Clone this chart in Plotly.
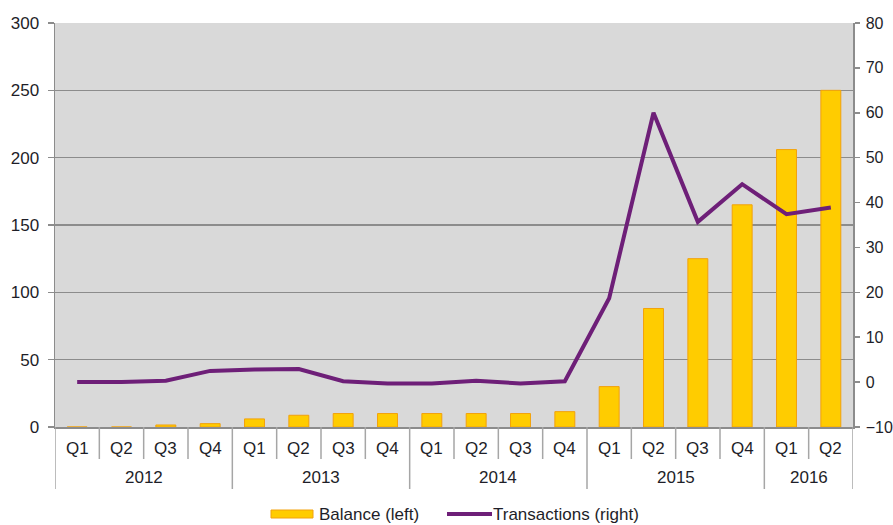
import plotly.graph_objects as go

years = ["2012", "2013", "2014", "2015", "2016"]
quarters = ["Q1", "Q2", "Q3", "Q4", "Q1", "Q2", "Q3", "Q4", "Q1", "Q2", "Q3", "Q4",
            "Q1", "Q2", "Q3", "Q4", "Q1", "Q2"]
year_of = ["2012"] * 4 + ["2013"] * 4 + ["2014"] * 4 + ["2015"] * 4 + ["2016"] * 2
balance = [0, 0, 1.5, 2.5, 6, 8.7, 10, 10, 10, 10, 10, 11.4, 30, 88, 125, 165, 206, 250]
transactions = [0, 0, 0.3, 2.5, 2.8, 2.9, 0.2, -0.3, -0.3, 0.3, -0.3, 0.2,
                18.7, 60, 35.7, 44.1, 37.4, 38.9]
left_ticks = [0, 50, 100, 150, 200, 250, 300]
right_ticks = [-10, 0, 10, 20, 30, 40, 50, 60, 70, 80]

W, H = 893, 525
L, R, T, B = 55, 853, 23, 427  # pixel positions of plot area
FONT = "Liberation Sans, Arial, sans-serif"
FS = 17
TXT = "#1E1E28"
GRAY = "#8C8C8C"
DIV = "#A6A6A6"
YEL = "#FFCC00"
PUR = "#6E1F78"

def px(x):
    return (x - L) / (R - L)

def py(y):
    return (B - y) / (B - T)

idx = list(range(len(quarters)))

fig = go.Figure()
fig.add_trace(go.Bar(x=idx, y=balance, name="Balance (left)", width=0.45,
                     marker=dict(color=YEL, line=dict(color="#F2A20C", width=1)),
                     yaxis="y", showlegend=False))
fig.add_trace(go.Scatter(x=idx, y=transactions, name="Transactions (right)", mode="lines",
                         line=dict(color=PUR, width=4), yaxis="y2", showlegend=False))

shapes = []
annotations = []
for i, q in enumerate(quarters):
    annotations.append(dict(x=i, y=py(448), xref="x", yref="paper", text=q, showarrow=False,
                            font=dict(family=FONT, size=FS, color=TXT), yanchor="middle"))
for i in range(len(quarters) + 1):
    b = i - 0.5
    is_year = i == 0 or i == len(quarters) or year_of[i] != year_of[i - 1]
    shapes.append(dict(type="line", xref="x", yref="paper", x0=b, x1=b, y0=0,
                       y1=py(489) if is_year else py(459), line=dict(color=DIV, width=1.5)))
for yr in years:
    members = [i for i in idx if year_of[i] == yr]
    annotations.append(dict(x=sum(members) / len(members), y=py(478), xref="x", yref="paper",
                            text=yr, showarrow=False,
                            font=dict(family=FONT, size=FS, color=TXT), yanchor="middle"))
LEG_Y = 514
shapes.append(dict(type="rect", xref="paper", yref="paper", x0=px(271), x1=px(313),
                   y0=py(LEG_Y + 4), y1=py(LEG_Y - 4), fillcolor=YEL,
                   line=dict(color="#F2A20C", width=1)))
annotations.append(dict(x=px(317), y=py(LEG_Y), xref="paper", yref="paper", text="Balance (left)",
                        showarrow=False, xanchor="left", yanchor="middle",
                        font=dict(family=FONT, size=FS, color=TXT)))
shapes.append(dict(type="line", xref="paper", yref="paper", x0=px(447), x1=px(492),
                   y0=py(LEG_Y), y1=py(LEG_Y), line=dict(color=PUR, width=4)))
annotations.append(dict(x=px(491), y=py(LEG_Y), xref="paper", yref="paper",
                        text="Transactions (right)", showarrow=False, xanchor="left",
                        yanchor="middle", font=dict(family=FONT, size=FS, color=TXT)))

fig.update_layout(
    width=W, height=H,
    margin=dict(l=L, r=W - R, t=T, b=H - B, pad=0, autoexpand=False),
    paper_bgcolor="white", plot_bgcolor="#D9D9D9",
    font=dict(family=FONT, size=FS, color=TXT),
    xaxis=dict(range=[-0.5, len(quarters) - 0.5], showticklabels=False, showgrid=False,
               zeroline=False, showline=True, linecolor=GRAY, linewidth=1.5, ticks="",
               automargin=False),
    yaxis=dict(range=[0, 300], tickvals=left_ticks, showgrid=True, gridcolor=GRAY,
               gridwidth=1.5, zeroline=False, showline=True, linecolor=GRAY, linewidth=1.5,
               ticks="outside", ticklen=6, tickcolor=GRAY, tickwidth=1.5,
               ticklabelstandoff=5, automargin=False,
               tickfont=dict(family=FONT, size=FS, color=TXT)),
    yaxis2=dict(range=[-10, 80], tickvals=right_ticks, overlaying="y", side="right",
                showgrid=False, zeroline=False, showline=True, linecolor=GRAY, linewidth=1.5,
                ticks="outside", ticklen=5, tickcolor=GRAY, tickwidth=1.5,
                ticklabelstandoff=3, automargin=False,
                tickfont=dict(family=FONT, size=16, color=TXT)),
    shapes=shapes, annotations=annotations, bargap=0.55, hovermode=False,
)

fig.write_html(
    "out.html",
    config={"displayModeBar": False, "staticPlot": True},
    post_script=("document.body.style.margin='0';"
                 "document.body.style.overflow='hidden';"
                 "document.documentElement.style.overflow='hidden';"),
)
